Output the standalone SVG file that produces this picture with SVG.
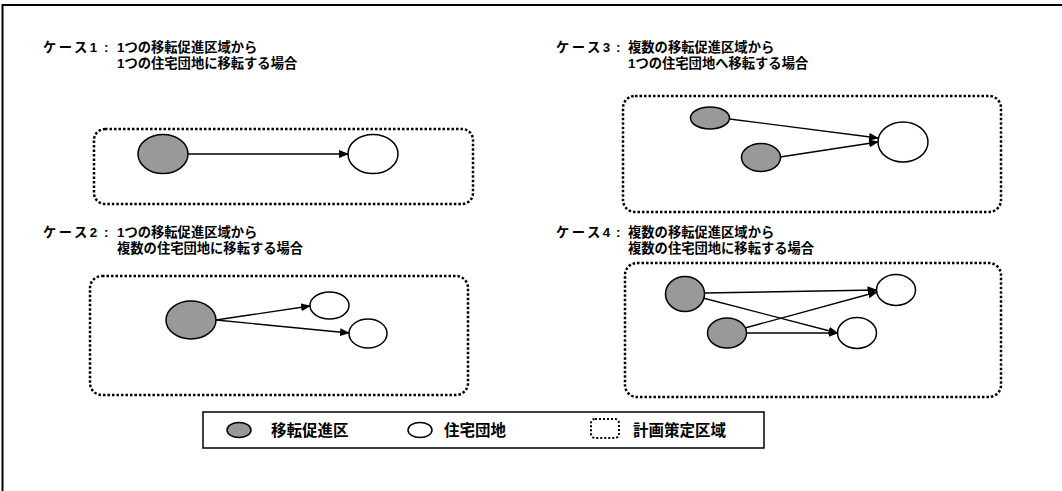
<svg xmlns="http://www.w3.org/2000/svg" width="1062" height="491" viewBox="0 0 1062 491">
<style>
.t{font-family:"Liberation Sans","Noto Sans CJK JP",sans-serif;font-weight:bold;font-size:13.3px;fill:#000}
.k{letter-spacing:2.5px}
.lg{font-family:"Liberation Sans","Noto Sans CJK JP",sans-serif;font-weight:bold;font-size:15.5px;fill:#000}
.area{fill:none;stroke:#000;stroke-width:2.5;stroke-dasharray:2.5 2}
.src{fill:#999;stroke:#000;stroke-width:1.5}
.dst{fill:#fff;stroke:#000;stroke-width:1.5}
.c{stroke:#000;stroke-width:1.4;fill:none;marker-end:url(#ah)}
</style>
<defs>
<marker id="ah" markerWidth="10" markerHeight="8" refX="9" refY="4" orient="auto" markerUnits="userSpaceOnUse">
<path d="M0,0 L10,4 L0,8 Z" fill="#000"/>
</marker>
</defs>
<rect width="1062" height="491" fill="#fff"/>
<path d="M2.5,491 L2.5,5 L1062,5" fill="none" stroke="#000" stroke-width="2"/>

<g id="case1">
<text class="t" x="43" y="52"><tspan class="k">ケース1</tspan><tspan x="104">:</tspan></text>
<text class="t" x="117" y="52">1つの移転促進区域から</text>
<text class="t" x="117" y="67.5">1つの住宅団地に移転する場合</text>
<rect id="area1" class="area" x="94" y="129" width="379" height="75" rx="11"/>
<ellipse id="c1src" class="src" cx="163" cy="154" rx="25" ry="19.5"/>
<ellipse id="c1dst" class="dst" cx="373" cy="154" rx="25" ry="19.5"/>
</g>

<g id="case3">
<text class="t" x="556" y="52"><tspan class="k">ケース3</tspan><tspan x="616">:</tspan></text>
<text class="t" x="628" y="52">複数の移転促進区域から</text>
<text class="t" x="628" y="67.5">1つの住宅団地へ移転する場合</text>
<rect id="area3" class="area" x="623" y="96" width="378" height="116" rx="12"/>
<ellipse id="c3src1" class="src" cx="710" cy="118" rx="19.5" ry="11"/>
<ellipse id="c3src2" class="src" cx="761" cy="157.5" rx="19.5" ry="14"/>
<ellipse id="c3dst" class="dst" cx="903" cy="142" rx="25" ry="20"/>
</g>

<g id="case2">
<text class="t" x="43" y="237"><tspan class="k">ケース2</tspan><tspan x="104">:</tspan></text>
<text class="t" x="117" y="237">1つの移転促進区域から</text>
<text class="t" x="117" y="252.5">複数の住宅団地に移転する場合</text>
<rect id="area2" class="area" x="90" y="276" width="378" height="119" rx="12"/>
<ellipse id="c2src" class="src" cx="191" cy="320" rx="25" ry="19"/>
<ellipse id="c2dst1" class="dst" cx="329.5" cy="305.5" rx="19.5" ry="13.5"/>
<ellipse id="c2dst2" class="dst" cx="368" cy="333.5" rx="19" ry="14.5"/>
</g>

<g id="case4">
<text class="t" x="556" y="237"><tspan class="k">ケース4</tspan><tspan x="616">:</tspan></text>
<text class="t" x="628" y="237">複数の移転促進区域から</text>
<text class="t" x="628" y="252.5">複数の住宅団地に移転する場合</text>
<rect id="area4" class="area" x="625" y="263" width="376" height="134" rx="12"/>
<ellipse id="c4src1" class="src" cx="685" cy="294" rx="19.5" ry="17.5"/>
<ellipse id="c4src2" class="src" cx="727" cy="333" rx="19.5" ry="15"/>
<ellipse id="c4dst1" class="dst" cx="896" cy="290" rx="19.5" ry="15.5"/>
<ellipse id="c4dst2" class="dst" cx="857" cy="333" rx="19.5" ry="15.5"/>
</g>

<g id="connectors">
<line class="c" x1="188" y1="154" x2="348" y2="154"/>
<line class="c" x1="729.5" y1="119" x2="878" y2="138"/>
<line class="c" x1="780" y1="157" x2="878" y2="142"/>
<line class="c" x1="216" y1="320" x2="310" y2="306"/>
<line class="c" x1="216" y1="320" x2="349" y2="333"/>
<line class="c" x1="704.5" y1="293" x2="876.5" y2="290"/>
<line class="c" x1="703" y1="298" x2="837.5" y2="333"/>
<line class="c" x1="746.5" y1="333" x2="837.5" y2="333"/>
<line class="c" x1="745" y1="328" x2="877" y2="292"/>
</g>

<g id="legend">
<rect x="203" y="412" width="561" height="36" fill="#fff" stroke="#000" stroke-width="1.5"/>
<ellipse class="src" cx="239" cy="430" rx="12" ry="7.5"/>
<text class="lg" x="271" y="436">移転促進区</text>
<ellipse class="dst" cx="420" cy="430" rx="12" ry="7.5"/>
<text class="lg" x="444" y="436">住宅団地</text>
<rect x="591" y="419" width="28" height="19" rx="4" fill="none" stroke="#000" stroke-width="2" stroke-dasharray="2 2"/>
<text class="lg" x="633" y="436">計画策定区域</text>
</g>
</svg>
